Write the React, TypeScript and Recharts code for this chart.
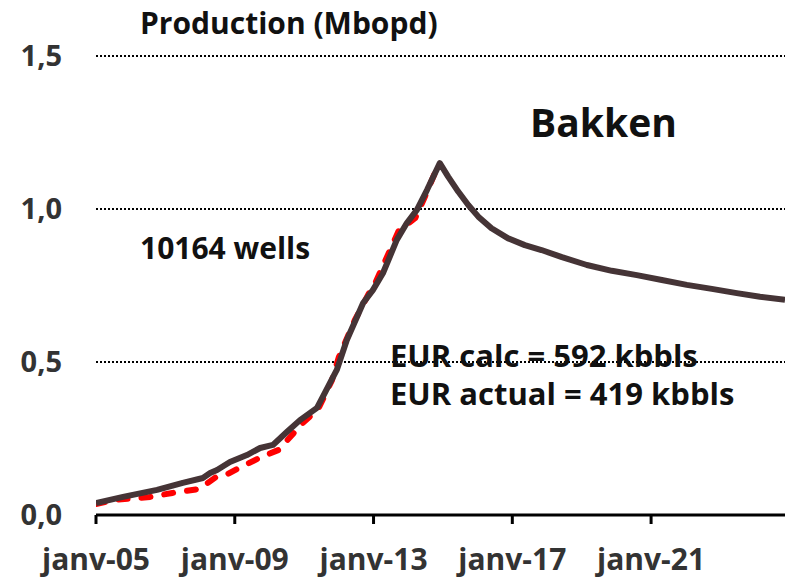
import { LineChart, Line, XAxis, YAxis, CartesianGrid } from 'recharts';

// modelled production (solid), decimal years
const calcYears = [
  2005.0, 2005.78, 2006.76, 2007.5, 2008.08, 2008.29, 2008.49, 2008.86, 2009.35, 2009.73,
  2010.1, 2010.5, 2010.88, 2011.37, 2011.6, 2011.94, 2012.23, 2012.7, 2012.98, 2013.27,
  2013.67, 2013.96, 2014.25, 2014.54, 2014.91, 2015.15, 2015.44, 2015.73, 2016.02, 2016.4,
  2016.88, 2017.36, 2017.84, 2018.43, 2019.15, 2019.87, 2020.59, 2021.31, 2022.03, 2022.75,
  2023.47, 2024.14, 2024.86,
];
const calcValues = [
  0.039, 0.059, 0.082, 0.105, 0.121, 0.137, 0.147, 0.173, 0.196, 0.219,
  0.229, 0.271, 0.31, 0.35, 0.4, 0.474, 0.572, 0.693, 0.735, 0.79,
  0.899, 0.954, 0.997, 1.062, 1.15, 1.106, 1.057, 1.013, 0.975, 0.937,
  0.904, 0.882, 0.866, 0.843, 0.817, 0.798, 0.784, 0.768, 0.752, 0.739,
  0.725, 0.713, 0.703,
];

// actual production (red dashed)
const actualYears = [
  2005.0, 2005.6, 2006.55, 2007.2, 2007.98, 2008.46, 2008.75, 2009.13, 2009.7, 2010.25,
  2010.48, 2010.95, 2011.4, 2011.8, 2012.0, 2012.46, 2012.87, 2013.05, 2013.73, 2014.2,
  2014.48, 2014.77, 2014.88,
];
const actualValues = [
  0.036, 0.05, 0.059, 0.072, 0.085, 0.124, 0.131, 0.154, 0.186, 0.212,
  0.24, 0.3, 0.345, 0.44, 0.516, 0.637, 0.725, 0.758, 0.93, 0.97,
  1.04, 1.118, 1.137,
];

const xTicks = [2005, 2009, 2013, 2017, 2021];
const xTickLabels = ['janv-05', 'janv-09', 'janv-13', 'janv-17', 'janv-21'];
const yTicks = [0, 0.5, 1.0, 1.5];

const calcData = calcYears.map((t, i) => ({ t, v: calcValues[i] }));
const actualData = actualYears.map((t, i) => ({ t, v: actualValues[i] }));

const font = '"Open Sans", "Noto Sans", sans-serif';

const textStyle = (left: number, top: number, size: number) => ({
  position: 'absolute' as const,
  left,
  top,
  fontSize: size,
  fontWeight: 700,
  fontFamily: font,
  color: '#111',
  whiteSpace: 'nowrap' as const,
  lineHeight: 1,
});

export default function App() {
  return (
    <div style={{ position: 'absolute', left: 0, top: 0, width: 785, height: 580, background: '#fff' }}>
      <LineChart width={785} height={580} margin={{ top: 56, right: 0, left: 0, bottom: 0 }}>
        <CartesianGrid vertical={false} stroke="#000" strokeWidth={2} strokeDasharray="2 2" />
        <XAxis
          type="number"
          dataKey="t"
          domain={[2005, 2024.86]}
          ticks={xTicks}
          tickFormatter={(v: number) => xTickLabels[xTicks.indexOf(v)] ?? ''}
          allowDataOverflow
          height={65}
          axisLine={{ stroke: '#000', strokeWidth: 3 }}
          tickLine={{ stroke: '#000', strokeWidth: 3 }}
          tickSize={9}
          tickMargin={25}
          tick={{ fontSize: 30, fontWeight: 700, fill: '#333', fontFamily: font }}
        />
        <YAxis
          type="number"
          domain={[0, 1.5]}
          ticks={yTicks}
          width={96}
          axisLine={false}
          tickLine={false}
          tickSize={0}
          tickMargin={34}
          tickFormatter={(v: number) => v.toFixed(1).replace('.', ',')}
          tick={{ fontSize: 29, fontWeight: 700, fill: '#333', fontFamily: font }}
        />
        <Line
          data={actualData}
          dataKey="v"
          type="linear"
          stroke="#ff0000"
          strokeWidth={6}
          strokeLinecap="round"
          strokeDasharray="9 14"
          dot={false}
          isAnimationActive={false}
        />
        <Line
          data={calcData}
          dataKey="v"
          type="linear"
          stroke="#453436"
          strokeWidth={6}
          strokeLinejoin="round"
          dot={false}
          isAnimationActive={false}
        />
      </LineChart>
      <div style={textStyle(140, 8, 30)}>Production (Mbopd)</div>
      <div style={textStyle(530, 102, 39)}>Bakken</div>
      <div style={textStyle(140, 233, 30)}>10164 wells</div>
      <div style={textStyle(390, 340, 31)}>EUR calc = 592 kbbls</div>
      <div style={textStyle(390, 378, 31)}>EUR actual = 419 kbbls</div>
    </div>
  );
}
